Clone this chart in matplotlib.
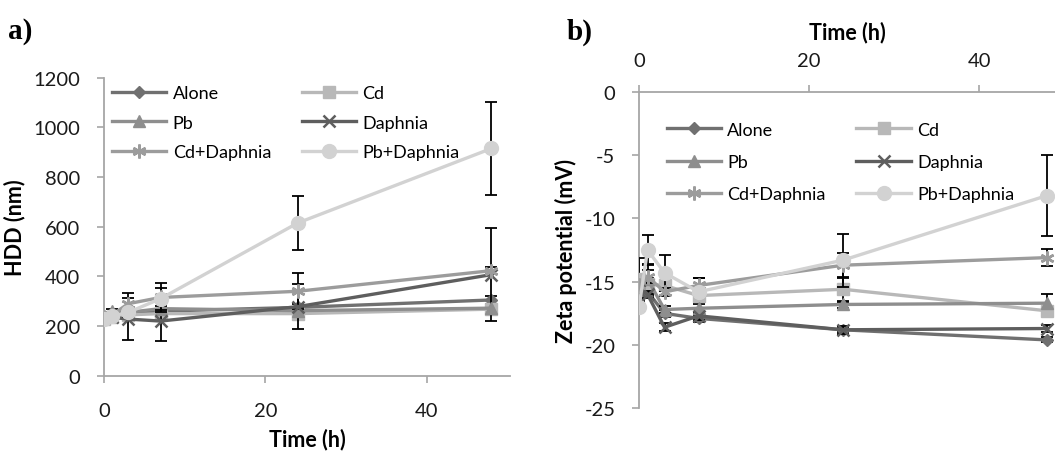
import numpy as np
import matplotlib
matplotlib.use("Agg")
import matplotlib.pyplot as plt

plt.rcParams['font.family'] = ['Lato', 'DejaVu Sans']
plt.rcParams['axes.unicode_minus'] = False

# time points (h)
time_h = [0, 1, 3, 7, 24, 48]
labels = ["Alone", "Cd", "Pb", "Daphnia", "Cd+Daphnia", "Pb+Daphnia"]

# a) HDD (nm)
hdd_alone = [235, 240, 255, 260, 275, 305]
hdd_cd = [230, 235, 245, 250, 250, 268]
hdd_pb = [235, 260, 255, 270, 262, 272]
hdd_daphnia = [235, 235, 228, 220, 278, 407]
hdd_cd_daphnia = [235, 245, 290, 315, 340, 423]
hdd_pb_daphnia = [230, 240, 255, 310, 615, 915]

hdd_err_alone = [8, 8, 10, 10, 12, 15]
hdd_err_cd = [8, 8, 10, 10, 12, 12]
hdd_err_pb = [8, 8, 10, 10, 12, 12]
hdd_err_daphnia = [8, 8, 85, 80, 90, 187]
hdd_err_cd_daphnia = [8, 8, 45, 58, 72, 15]
hdd_err_pb_daphnia = [8, 8, 20, 45, 107, 187]

# b) Zeta potential (mV)
zeta_alone = [-16.0, -15.8, -17.5, -17.9, -18.8, -19.6]
zeta_cd = [-14.8, -15.2, -15.3, -16.1, -15.6, -17.3]
zeta_pb = [-15.5, -14.8, -17.2, -17.1, -16.8, -16.7]
zeta_daphnia = [-15.7, -16.0, -18.6, -17.7, -18.8, -18.7]
zeta_cd_daphnia = [-15.3, -14.6, -15.8, -15.3, -13.7, -13.1]
zeta_pb_daphnia = [-17.0, -12.5, -14.3, -15.8, -13.3, -8.2]

zeta_err_alone = [0.3, 0.3, 0.3, 0.3, 0.2, 0.2]
zeta_err_cd = [1.7, 0.5, 0.3, 1.4, 1.0, 0.3]
zeta_err_pb = [0.3, 1.2, 0.3, 0.3, 0.3, 0.7]
zeta_err_daphnia = [0.3, 0.3, 0.3, 0.3, 0.3, 0.3]
zeta_err_cd_daphnia = [0.3, 0.5, 0.3, 0.6, 1.0, 0.7]
zeta_err_pb_daphnia = [0.3, 1.2, 1.4, 0.3, 2.1, 3.2]

colors = ["#707070", "#b8b8b8", "#8e8e8e", "#5e5e5e", "#9c9c9c", "#d2d2d2"]
markers = ["D", "s", "^", "x", (6, 2, 0), "o"]
msizes = [6.5, 8, 8.5, 9, 10, 10]
axis_col = "#a6a6a6"


def draw(ax, series, errs):
    for i, (y, e) in enumerate(zip(series, errs)):
        ax.errorbar(time_h, y, yerr=e, fmt="none", ecolor="black",
                    elinewidth=1.3, capsize=4.5, capthick=1.3, zorder=2 + i)
    for i, y in enumerate(series):
        ax.plot(time_h, y, color=colors[i], lw=2.4, marker=markers[i],
                ms=msizes[i], mew=1.8 if i in (3, 4) else 1,
                mec=colors[i], mfc=colors[i], label=labels[i], zorder=3 + i)


def style(ax, anchor, lspace):
    for s in ax.spines.values():
        s.set_color(axis_col)
        s.set_linewidth(1.3)
    ax.tick_params(colors=axis_col, labelcolor="#1a1a1a", labelsize=14.5,
                   length=5, width=1.2)
    ax.tick_params(axis="y", pad=12)
    h, l = ax.get_legend_handles_labels()
    order = [0, 2, 4, 1, 3, 5]  # row-wise like Excel
    ax.legend([h[k] for k in order], [l[k] for k in order], ncol=2,
              frameon=False, fontsize=13, loc="upper left",
              bbox_to_anchor=anchor, handlelength=3.0, handletextpad=0.35,
              columnspacing=1.7, borderaxespad=0, borderpad=0,
              labelspacing=lspace)


fig = plt.figure(figsize=(10.55, 4.56), dpi=100)

# panel a
ax1 = fig.add_axes([0.0986, 0.1739, 0.3848, 0.6535])
draw(ax1, [hdd_alone, hdd_cd, hdd_pb, hdd_daphnia, hdd_cd_daphnia, hdd_pb_daphnia],
     [hdd_err_alone, hdd_err_cd, hdd_err_pb, hdd_err_daphnia,
      hdd_err_cd_daphnia, hdd_err_pb_daphnia])
ax1.set_xlim(0, 50.3)
ax1.set_ylim(0, 1200)
ax1.set_xticks([0, 20, 40])
ax1.set_yticks(np.arange(0, 1201, 200))
ax1.spines["top"].set_visible(False)
ax1.spines["right"].set_visible(False)
style(ax1, (0.02, 0.975), 0.75)
ax1.tick_params(axis="x", pad=14)
ax1.set_xlabel("Time (h)", fontsize=15.5, fontweight="bold", labelpad=6)
ax1.set_ylabel("HDD (nm)", fontsize=15.5, fontweight="bold", labelpad=6)

# panel b
ax2 = fig.add_axes([0.6057, 0.1024, 0.3948, 0.6943])
draw(ax2, [zeta_alone, zeta_cd, zeta_pb, zeta_daphnia, zeta_cd_daphnia, zeta_pb_daphnia],
     [zeta_err_alone, zeta_err_cd, zeta_err_pb, zeta_err_daphnia,
      zeta_err_cd_daphnia, zeta_err_pb_daphnia])
ax2.set_xlim(0, 49)
ax2.set_ylim(-25, 0)
ax2.set_xticks([0, 20, 40])
ax2.set_yticks(np.arange(-25, 1, 5))
ax2.xaxis.tick_top()
ax2.xaxis.set_label_position("top")
ax2.spines["bottom"].set_visible(False)
ax2.spines["right"].set_visible(False)
style(ax2, (0.067, 0.905), 0.9)
ax2.tick_params(axis="x", pad=11)
ax2.set_xlabel("Time (h)", fontsize=15.5, fontweight="bold", labelpad=10)
ax2.set_ylabel("Zeta potential (mV)", fontsize=15.5, fontweight="bold", labelpad=5)

fig.text(0.008, 0.93, "a)", fontsize=21, fontweight="bold",
         family="Liberation Serif", va="center")
fig.text(0.537, 0.93, "b)", fontsize=21, fontweight="bold",
         family="Liberation Serif", va="center")

fig.savefig("out.png", dpi=100)
